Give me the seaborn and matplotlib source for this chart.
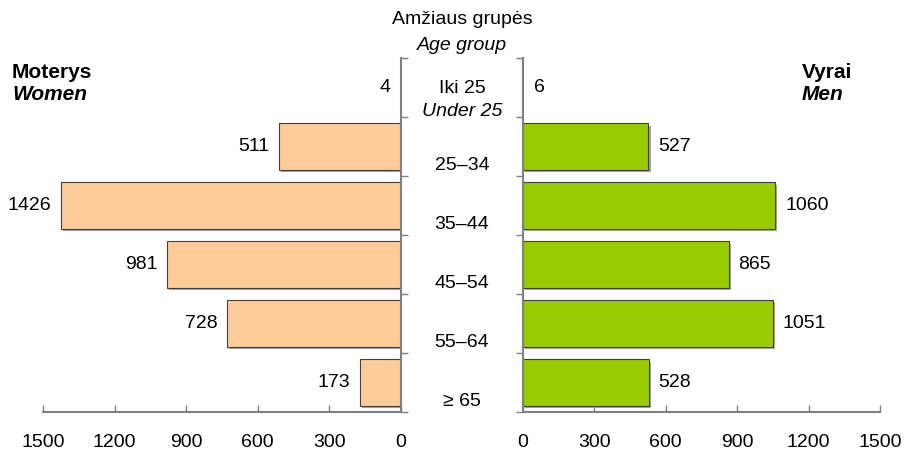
import numpy as np
import pandas as pd
import matplotlib
matplotlib.use("Agg")
import matplotlib.pyplot as plt
import matplotlib.patheffects as pe
import matplotlib.transforms as mtransforms
import seaborn as sns

groups = ["Iki 25\nUnder 25", "25–34", "35–44", "45–54", "55–64", "≥ 65"]
women = [4, 511, 1426, 981, 728, 173]
men = [6, 527, 1060, 865, 1051, 528]
xticks = [0, 300, 600, 900, 1200, 1500]

sns.set_style("white")
plt.rcParams["font.family"] = ["Liberation Sans", "DejaVu Sans"]
plt.rcParams["font.size"] = 14
plt.rcParams["text.color"] = "black"

df = pd.DataFrame({"group": groups, "women": women, "men": men})

fig = plt.figure(figsize=(9.05, 4.54), dpi=100)
axL = fig.add_axes([43 / 905, 1 - 412 / 454, (401 - 43) / 905, (412 - 58) / 454])
axR = fig.add_axes([523 / 905, 1 - 412 / 454, (880 - 523) / 905, (412 - 58) / 454])

shadow = [pe.SimplePatchShadow(offset=(1.5, -1.5), shadow_rgbFace="#9a9a9a", alpha=0.9), pe.Normal()]

sns.barplot(data=df, x="women", y="group", orient="h", ax=axL, color="#FFCC99",
            saturation=1, width=0.78, edgecolor="#404040", linewidth=0.8)
sns.barplot(data=df, x="men", y="group", orient="h", ax=axR, color="#99CC00",
            saturation=1, width=0.78, edgecolor="#404040", linewidth=0.8)

for ax, vals, off, ha in ((axL, women, -7, "right"), (axR, men, 7, "left")):
    for p, v in zip(ax.patches, vals):
        # very short bars disappear behind the axis line in the original
        if v > 20:
            p.set_path_effects(shadow)
        else:
            p.set_linewidth(0)
    for i, v in enumerate(vals):
        ax.annotate(str(v), xy=(v, i), xytext=(off, 0), textcoords="offset points",
                    ha=ha, va="center", fontsize=14, color="black")
    ax.set_xlim(0, 1500)
    ax.set_ylim(5.5, -0.5)
    ax.set_xticks(xticks)
    ax.set_xticklabels([str(t) for t in xticks])
    ax.set_yticks(np.arange(-0.5, 6, 1))
    ax.set_yticklabels([])
    ax.set_xlabel("")
    ax.set_ylabel("")
    ax.tick_params(axis="x", direction="in", length=5, width=1, color="#808080", pad=16,
                   bottom=True, labelsize=14, labelcolor="black")
    ax.tick_params(axis="y", direction="out", length=5, width=1, color="#808080")
    for s in ax.spines.values():
        s.set_color("#808080")
        s.set_linewidth(1.5)
    ax.spines["top"].set_visible(False)

axL.invert_xaxis()
axL.yaxis.tick_right()
axL.tick_params(axis="y", left=False, right=True)
axL.spines["left"].set_visible(False)
axR.spines["right"].set_visible(False)
axR.tick_params(axis="y", left=True, right=False)

# group labels in the middle
trans = mtransforms.blended_transform_factory(fig.transFigure, axL.transData)
for i, g in enumerate(groups):
    if "\n" in g:
        a, b = g.split("\n")
        fig.text(462 / 905, i + 0.02, a, transform=trans, ha="center", va="center", fontsize=14)
        fig.text(462 / 905, i + 0.41, b, transform=trans, ha="center", va="center", fontsize=14, style="italic")
    else:
        fig.text(462 / 905, i + 0.47, g, transform=trans, ha="center", va="bottom", fontsize=14)

fig.text(462 / 905, 1 - 20 / 454, "Amžiaus grupės", ha="center", va="center", fontsize=14)
fig.text(462 / 905, 1 - 45 / 454, "Age group", ha="center", va="center", fontsize=14, style="italic")
fig.text(12 / 905, 1 - 72 / 454, "Moterys", ha="left", va="center", fontsize=15, weight="bold")
fig.text(12 / 905, 1 - 95 / 454, "Women", ha="left", va="center", fontsize=15, weight="bold", style="italic")
fig.text(802 / 905, 1 - 72 / 454, "Vyrai", ha="left", va="center", fontsize=15, weight="bold")
fig.text(802 / 905, 1 - 95 / 454, "Men", ha="left", va="center", fontsize=15, weight="bold", style="italic")

fig.savefig("out.png", dpi=100)
